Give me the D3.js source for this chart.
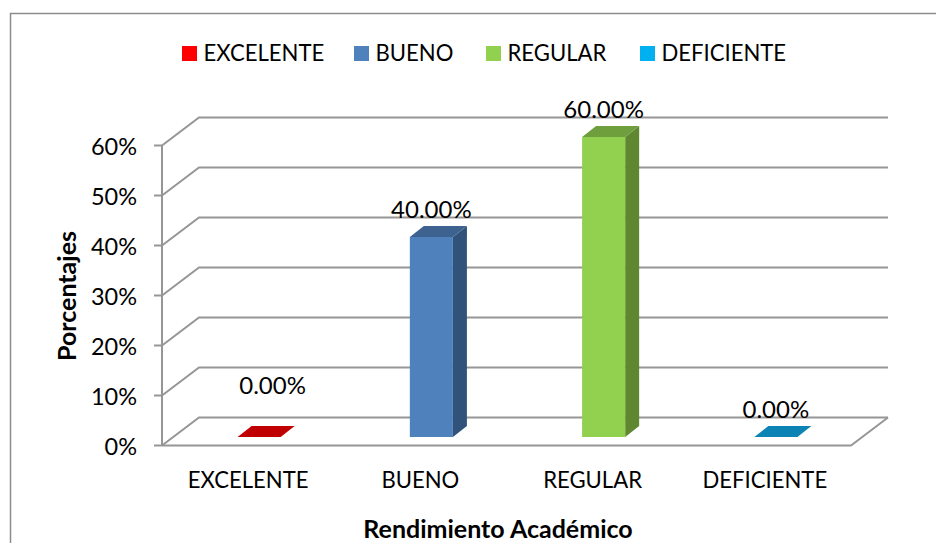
<!DOCTYPE html>
<html>
<head>
<meta charset="utf-8">
<script src="https://cdn.jsdelivr.net/npm/d3@7"></script>
<style>
  html, body { margin: 0; padding: 0; background: #fff; overflow: hidden; }
  text { font-family: Lato, "Open Sans", sans-serif; fill: #000; }
</style>
</head>
<body>
<div id="container"></div>
<script>
const categories = ["EXCELENTE", "BUENO", "REGULAR", "DEFICIENTE"];
const values = [0, 40, 60, 0];
const valueLabels = ["0.00%", "40.00%", "60.00%", "0.00%"];
const yTicks = [0, 10, 20, 30, 40, 50, 60];
const xTitle = "Rendimiento Académico";
const yTitle = "Porcentajes";

const frontColors = ["#c00000", "#4f81bd", "#92d050", "#0f8fc4"];
const topColors = ["#c00000", "#3d6290", "#6f9e3d", "#0b84b5"];
const sideColors = ["#900000", "#31527a", "#5e8730", "#096c94"];
const legendColors = ["#ff0000", "#4f81bd", "#92d050", "#00b0f0"];
const legendX = [182, 354, 486, 640];

const width = 936, height = 543;
const gridColor = "#969696";
const depthX = 37, depthY = -28;      // back wall offset
const barOffX = 11, barOffY = -8.5;   // bar sits a bit inside the floor
const barDepthX = 14, barDepthY = -11;

const svg = d3.select("#container").append("svg")
    .attr("width", width)
    .attr("height", height);

// squeeze the text sideways, Lato caps run wider than the original font
function condense(sel, k) {
    sel.each(function() {
        this.setAttribute("textLength", this.getComputedTextLength() * k);
        this.setAttribute("lengthAdjust", "spacingAndGlyphs");
    });
}

// outer frame, runs off the right and bottom of the picture
svg.append("rect")
    .attr("x", 10.5).attr("y", 13.5)
    .attr("width", 960).attr("height", 560)
    .attr("fill", "none")
    .attr("stroke", "#8c8c8c")
    .attr("stroke-width", 1.5);

const x = d3.scaleBand()
    .domain(categories)
    .range([162, 851])
    .paddingInner(0.75)
    .paddingOuter(0.375);

const y = d3.scaleLinear()
    .domain([0, 60])
    .range([445.5, 145.5]);

// walls: side diagonals and back lines
const grid = svg.append("g")
    .attr("fill", "none")
    .attr("stroke", gridColor)
    .attr("stroke-width", 2);

grid.selectAll("path").data(yTicks).enter().append("path")
    .attr("d", d => {
        const p = d3.path();
        p.moveTo(x.range()[0], y(d));
        p.lineTo(x.range()[0] + depthX, y(d) + depthY);
        p.lineTo(x.range()[1] + depthX, y(d) + depthY);
        return p.toString();
    });

// floor front edge and right edge
const floor = d3.path();
floor.moveTo(x.range()[0], y(0));
floor.lineTo(x.range()[1], y(0));
floor.lineTo(x.range()[1] + depthX, y(0) + depthY);
grid.append("path").attr("d", floor.toString());

// y axis line and ticks
grid.append("line")
    .attr("x1", x.range()[0]).attr("x2", x.range()[0])
    .attr("y1", y(60)).attr("y2", y(0));
grid.selectAll("line.tick").data(yTicks).enter().append("line")
    .attr("class", "tick")
    .attr("x1", x.range()[0] - 8).attr("x2", x.range()[0])
    .attr("y1", d => y(d)).attr("y2", d => y(d));

svg.append("g").selectAll("text").data(yTicks).enter().append("text")
    .attr("x", 137)
    .attr("y", d => y(d) + 9.5)
    .attr("text-anchor", "end")
    .attr("font-size", 23.5)
    .text(d => d + "%");

// bars
const bars = svg.append("g").selectAll("g").data(categories).enter().append("g");

const poly = pts => pts.map(p => p.join(",")).join(" ");

bars.each(function(c, i) {
    const g = d3.select(this);
    const x0 = x(c) + barOffX, x1 = x0 + x.bandwidth();
    const yb = y(0) + barOffY, yt = y(values[i]) + barOffY;
    if (values[i] > 0) {
        g.append("polygon").attr("fill", sideColors[i])
            .attr("points", poly([[x1, yb], [x1 + barDepthX, yb + barDepthY], [x1 + barDepthX, yt + barDepthY], [x1, yt]]));
        g.append("rect").attr("fill", frontColors[i])
            .attr("x", x0).attr("y", yt)
            .attr("width", x.bandwidth()).attr("height", yb - yt);
    }
    g.append("polygon").attr("fill", topColors[i])
        .attr("points", poly([[x0, yt], [x1, yt], [x1 + barDepthX, yt + barDepthY], [x0 + barDepthX, yt + barDepthY]]));
});

// value labels, the first one was moved by hand in the original
svg.append("g").selectAll("text").data(categories).enter().append("text")
    .attr("x", (c, i) => x(c) + x.bandwidth() / 2 + (i === 0 ? 24.5 : 11))
    .attr("y", (c, i) => i === 0 ? 394 : y(values[i]) - 27.5)
    .attr("text-anchor", "middle")
    .attr("font-size", 24)
    .text((c, i) => valueLabels[i]);

// category labels
svg.append("g").selectAll("text").data(categories).enter().append("text")
    .attr("x", c => x(c) + x.bandwidth() / 2)
    .attr("y", 488)
    .attr("text-anchor", "middle")
    .attr("font-size", 23.5)
    .text(c => c)
    .call(condense, 0.94);

svg.append("text")
    .attr("x", 498).attr("y", 538)
    .attr("text-anchor", "middle")
    .attr("font-size", 25)
    .attr("font-weight", "bold")
    .text(xTitle);

svg.append("text")
    .attr("transform", "translate(76,296) rotate(-90)")
    .attr("text-anchor", "middle")
    .attr("font-size", 25)
    .attr("font-weight", "bold")
    .text(yTitle);

// legend
const legend = svg.append("g").selectAll("g").data(categories).enter().append("g")
    .attr("transform", (c, i) => `translate(${legendX[i]},46)`);
legend.append("rect")
    .attr("width", 15).attr("height", 15)
    .attr("fill", (c, i) => legendColors[i]);
legend.append("text")
    .attr("x", 21.5).attr("y", 15)
    .attr("font-size", 23.5)
    .text(c => c)
    .call(condense, 0.94);
</script>
</body>
</html>
